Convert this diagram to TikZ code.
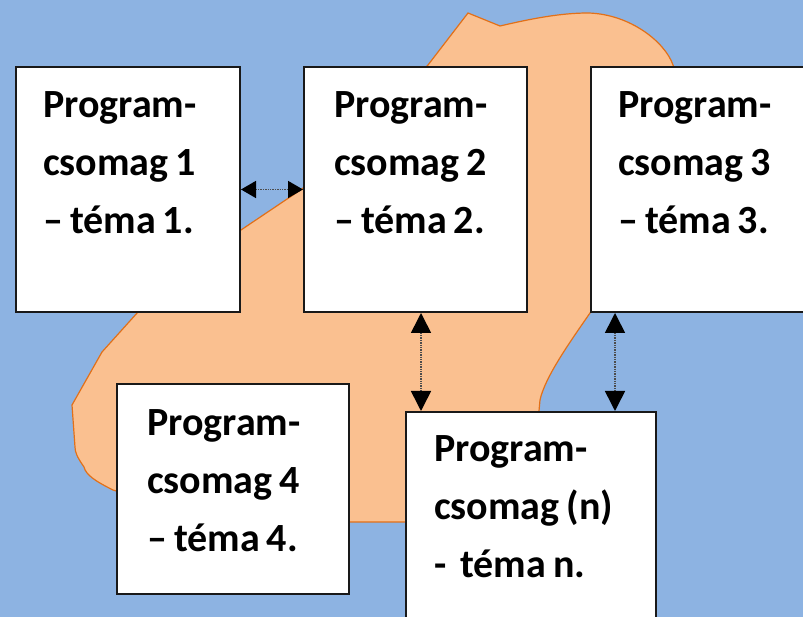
\documentclass[tikz,border=0pt]{standalone}
\usepackage{fontspec}
\setmainfont{Carlito}
\usetikzlibrary{arrows.meta}
\definecolor{bgblue}{RGB}{141,179,226}
\definecolor{blobfill}{RGB}{250,192,144}
\definecolor{blobline}{RGB}{226,112,24}
\newcommand\lblfont{\fontsize{40}{58}\selectfont\bfseries}
\newcommand\tightsp{\spaceskip=7pt\relax\xspaceskip=7pt\relax}
\tikzset{
  box/.style={draw=black!90, line width=2pt, fill=white, rectangle, anchor=north west, inner sep=0pt},
  lbl/.style={anchor=base west, align=left, text width=220pt, inner sep=0pt,
    font=\lblfont, execute at begin node=\tightsp},
  hlink/.style={line width=1.6pt, draw=black!70, dash pattern=on 1.4pt off 1pt,
    {Triangle[length=15pt,width=17pt,fill=black,color=black]}-{Triangle[length=15pt,width=17pt,fill=black,color=black]}},
  vlink/.style={line width=1.6pt, draw=black!70, dash pattern=on 1.4pt off 1pt,
    {Triangle[length=20pt,width=20pt,fill=black,color=black]}-{Triangle[length=20pt,width=20pt,fill=black,color=black]}}
}
\begin{document}
\begin{tikzpicture}[x=1pt,y=1pt]
\useasboundingbox (0,0) rectangle (803,617);
\clip (0,0) rectangle (803,617);
\fill[bgblue] (0,0) rectangle (803,617);
% blob
\draw[blobline, fill=blobfill, line width=1.2pt]
  (428,552) -- (468,604) -- (500,591)
  .. controls (530,598) and (560,604) .. (588,604)
  .. controls (630,603) and (665,575) .. (673,552)
  -- (700,450) -- (610,330)
  -- (590,304)
  .. controls (570,275) and (545,240) .. (540,217)
  -- (538,195) -- (480,100) -- (404,95) -- (346,95) -- (200,100)
  -- (113,127)
  .. controls (95,136) and (86,142) .. (84,150)
  .. controls (77,160) and (75,165) .. (75,170)
  -- (72,212) -- (102,265) -- (138,305) -- (200,360)
  -- (241,387) -- (302,428) -- (380,500) -- cycle;
% boxes
\node[box, minimum width=224pt, minimum height=245pt] (b1) at (15,551) {};
\node[box, minimum width=223pt, minimum height=245pt] (b2) at (303,551) {};
\node[box, minimum width=230pt, minimum height=245pt] (b3) at (590,551) {};
\node[box, minimum width=232pt, minimum height=210pt] (b4) at (116,234) {};
\node[box, minimum width=250pt, minimum height=220pt] (b5) at (405,206) {};
% labels
\node[lbl] (t1) at ([xshift=28pt,yshift=-52pt]b1.north west) {Program-\\csomag 1\\– téma 1.};
\node[lbl] (t2) at ([xshift=31pt,yshift=-52pt]b2.north west) {Program-\\csomag 2\\– téma 2.};
\node[lbl] (t3) at ([xshift=28pt,yshift=-52pt]b3.north west) {Program-\\csomag 3\\– téma 3.};
\node[lbl] (t4) at ([xshift=31pt,yshift=-53pt]b4.north west) {Program-\\csomag 4\\– téma 4.};
\node[lbl] (t5) at ([xshift=29pt,yshift=-51pt]b5.north west) {Program-\\csomag (n)\\-\hspace{14pt}téma n.};
% connectors
\draw[hlink] (b1.east) -- (b2.west);
\draw[vlink] ([xshift=118pt]b2.south west) -- ([xshift=16pt]b5.north west);
\draw[vlink] ([xshift=25pt]b3.south west) -- ([xshift=210pt]b5.north west);
\end{tikzpicture}
\end{document}
